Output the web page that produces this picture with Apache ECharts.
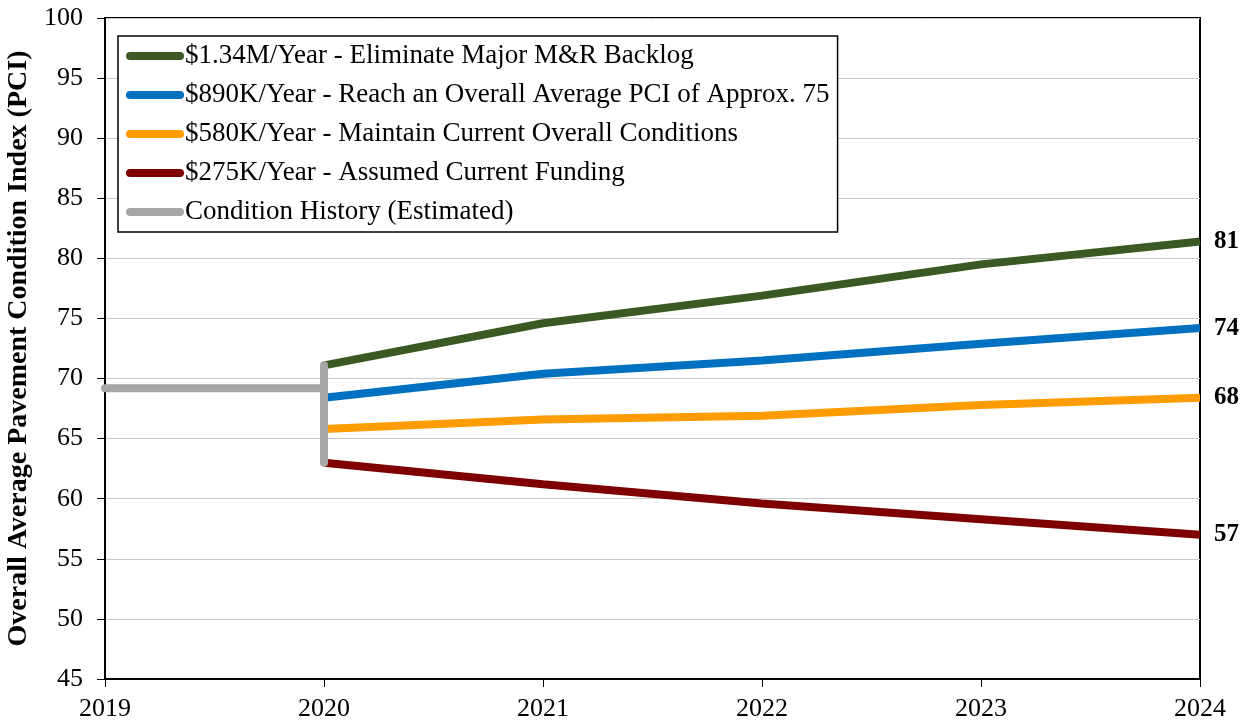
<!DOCTYPE html>
<html>
<head>
<meta charset="utf-8">
<title>PCI projections</title>
<style>
  html, body { margin: 0; padding: 0; background: #fff; }
  #main { width: 1247px; height: 725px; }
</style>
</head>
<body>
<div id="main"></div>
<script src="https://cdn.jsdelivr.net/npm/echarts@6/dist/echarts.min.js"></script>
<script>
// data
var years = [2020, 2021, 2022, 2023, 2024];
var fund134M = [71.1, 74.6, 76.9, 79.5, 81.4];
var fund890K = [68.4, 70.4, 71.5, 72.9, 74.2];
var fund580K = [65.8, 66.6, 66.9, 67.8, 68.4];
var fund275K = [63.0, 61.2, 59.6, 58.3, 57.0];
// history: flat 2019-2020, then the vertical bar at 2020
var historyYears = [2019, 2020, 2020, 2020];
var historyValues = [69.2, 69.2, 71.1, 63.0];
var xTicks = [2019, 2020, 2021, 2022, 2023, 2024];

var names = [
  '$1.34M/Year - Eliminate Major M&R Backlog',
  '$890K/Year - Reach an Overall Average PCI of Approx. 75',
  '$580K/Year - Maintain Current Overall Conditions',
  '$275K/Year - Assumed Current Funding',
  'Condition History (Estimated)'
];
var colors = ['#3B5A23', '#0070C0', '#FF9C00', '#7F0000', '#A6A6A6'];

var FONT = '"Liberation Serif", "Times New Roman", serif';

function pairs(xs, ys) {
  return xs.map(function (x, i) { return [x, ys[i]]; });
}

function projection(idx, values) {
  return {
    name: names[idx],
    type: 'line',
    data: pairs(years, values),
    showSymbol: false,
    lineStyle: { width: 8, color: colors[idx], cap: 'butt' },
    itemStyle: { color: colors[idx] },
    z: 2,
    endLabel: {
      show: true,
      distance: 14,
      formatter: function (p) { return Math.round(p.value[1]); },
      fontFamily: FONT,
      fontWeight: 'bold',
      fontSize: 25,
      color: '#000'
    }
  };
}

var pill = 'path://M4,0 H54 A4,4 0 0 1 54,8 H4 A4,4 0 0 1 4,0 Z';

var chart = echarts.init(document.getElementById('main'));
chart.setOption({
  animation: false,
  backgroundColor: '#fff',
  textStyle: { fontFamily: FONT, color: '#000' },
  grid: {
    left: 105, right: 47, top: 18, bottom: 46,
    outerBoundsMode: 'none',
    show: true, borderColor: '#000', borderWidth: 2
  },
  legend: {
    orient: 'vertical',
    left: 118, top: 36,
    padding: [6, 8, 6, 8],
    borderColor: '#000', borderWidth: 1.5,
    backgroundColor: '#fff',
    itemWidth: 58, itemHeight: 8,
    itemGap: 11,
    icon: pill,
    data: names,
    textStyle: {
      fontFamily: FONT, fontSize: 27, color: '#000',
      lineHeight: 28, padding: [0, 0, 0, -4]
    }
  },
  xAxis: {
    type: 'value',
    min: 2019, max: 2024, interval: 1,
    axisLine: { lineStyle: { color: '#000', width: 2 } },
    axisTick: { show: true, length: 8, lineStyle: { color: '#000' } },
    axisLabel: {
      fontFamily: FONT, fontSize: 26, color: '#000', margin: 17,
      formatter: function (v) { return xTicks.indexOf(v) >= 0 ? String(v) : ''; }
    },
    splitLine: { show: false }
  },
  yAxis: {
    type: 'value',
    min: 45, max: 100, interval: 5,
    name: 'Overall Average Pavement Condition Index (PCI)',
    nameLocation: 'middle',
    nameGap: 66,
    nameTextStyle: { fontFamily: FONT, fontSize: 28, fontWeight: 'bold', color: '#000' },
    axisLine: { show: true, lineStyle: { color: '#000', width: 2 } },
    axisTick: { show: true, length: 8, lineStyle: { color: '#000' } },
    axisLabel: { fontFamily: FONT, fontSize: 26, color: '#000', margin: 22 },
    splitLine: { show: true, lineStyle: { color: '#C8C8C8', width: 1 } }
  },
  series: [
    projection(0, fund134M),
    projection(1, fund890K),
    projection(2, fund580K),
    projection(3, fund275K),
    {
      name: names[4],
      type: 'line',
      data: pairs(historyYears, historyValues),
      showSymbol: false,
      z: 3,
      lineStyle: { width: 8, color: colors[4], cap: 'round', join: 'round' },
      itemStyle: { color: colors[4] }
    }
  ]
});
</script>
</body>
</html>
